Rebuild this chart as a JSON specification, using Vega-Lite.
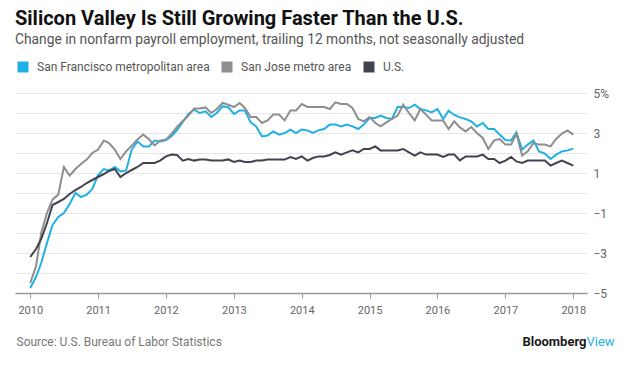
{
  "$schema": "https://vega.github.io/schema/vega-lite/v6.json",
  "autosize": {"type": "none"},
  "width": 572,
  "height": 200,
  "padding": {"left": 15, "top": 93, "right": 39, "bottom": 74},
  "background": "#ffffff",
  "config": {
    "font": "Roboto",
    "view": {"stroke": null}
  },
  "title": {
    "text": "Silicon Valley Is Still Growing Faster Than the U.S.",
    "subtitle": "Change in nonfarm payroll employment, trailing 12 months, not seasonally adjusted",
    "anchor": "start",
    "frame": "group",
    "fontSize": 20,
    "fontWeight": "bold",
    "color": "#111111",
    "subtitleFontSize": 13.8,
    "subtitleColor": "#555555",
    "subtitlePadding": 4,
    "offset": 14
  },
  "data": {
    "values": [
      {"d":"2010-01-01","sf":-4.75,"sj":-4.5,"us":-3.2},
      {"d":"2010-02-01","sf":-4.2,"sj":-3.67,"us":-2.8},
      {"d":"2010-03-01","sf":-3.5,"sj":-2.0,"us":-2.3},
      {"d":"2010-04-01","sf":-2.5,"sj":-1.0,"us":-1.5},
      {"d":"2010-05-01","sf":-1.6,"sj":-0.33,"us":-0.6},
      {"d":"2010-06-01","sf":-1.2,"sj":-0.08,"us":-0.45},
      {"d":"2010-07-01","sf":-1.0,"sj":1.3,"us":-0.3},
      {"d":"2010-08-01","sf":-0.55,"sj":0.87,"us":-0.05},
      {"d":"2010-09-01","sf":0.0,"sj":1.2,"us":0.15},
      {"d":"2010-10-01","sf":-0.2,"sj":1.45,"us":0.3},
      {"d":"2010-11-01","sf":-0.08,"sj":1.67,"us":0.5},
      {"d":"2010-12-01","sf":0.2,"sj":2.0,"us":0.65},
      {"d":"2011-01-01","sf":0.9,"sj":2.17,"us":0.8},
      {"d":"2011-02-01","sf":1.2,"sj":2.62,"us":0.95},
      {"d":"2011-03-01","sf":1.13,"sj":2.5,"us":1.1},
      {"d":"2011-04-01","sf":1.3,"sj":2.17,"us":1.2},
      {"d":"2011-05-01","sf":1.08,"sj":1.7,"us":0.8},
      {"d":"2011-06-01","sf":1.13,"sj":2.08,"us":1.0},
      {"d":"2011-07-01","sf":2.17,"sj":2.37,"us":1.15},
      {"d":"2011-08-01","sf":2.58,"sj":2.67,"us":1.3},
      {"d":"2011-09-01","sf":2.33,"sj":2.92,"us":1.5},
      {"d":"2011-10-01","sf":2.33,"sj":2.7,"us":1.5},
      {"d":"2011-11-01","sf":2.62,"sj":2.38,"us":1.5},
      {"d":"2011-12-01","sf":2.58,"sj":2.62,"us":1.62},
      {"d":"2012-01-01","sf":2.63,"sj":2.67,"us":1.83},
      {"d":"2012-02-01","sf":2.85,"sj":2.97,"us":1.92},
      {"d":"2012-03-01","sf":3.15,"sj":3.3,"us":1.9},
      {"d":"2012-04-01","sf":3.55,"sj":3.6,"us":1.62},
      {"d":"2012-05-01","sf":3.95,"sj":3.87,"us":1.7},
      {"d":"2012-06-01","sf":4.17,"sj":4.22,"us":1.62},
      {"d":"2012-07-01","sf":4.0,"sj":4.22,"us":1.68},
      {"d":"2012-08-01","sf":4.08,"sj":4.28,"us":1.68},
      {"d":"2012-09-01","sf":3.8,"sj":4.0,"us":1.62},
      {"d":"2012-10-01","sf":4.0,"sj":4.2,"us":1.62},
      {"d":"2012-11-01","sf":4.33,"sj":4.5,"us":1.62},
      {"d":"2012-12-01","sf":4.3,"sj":4.42,"us":1.68},
      {"d":"2013-01-01","sf":3.95,"sj":4.3,"us":1.55},
      {"d":"2013-02-01","sf":4.13,"sj":4.5,"us":1.62},
      {"d":"2013-03-01","sf":4.13,"sj":4.25,"us":1.55},
      {"d":"2013-04-01","sf":3.53,"sj":3.8,"us":1.55},
      {"d":"2013-05-01","sf":3.33,"sj":3.8,"us":1.62},
      {"d":"2013-06-01","sf":2.83,"sj":3.5,"us":1.62},
      {"d":"2013-07-01","sf":2.87,"sj":3.63,"us":1.67},
      {"d":"2013-08-01","sf":3.08,"sj":3.92,"us":1.67},
      {"d":"2013-09-01","sf":2.92,"sj":3.92,"us":1.67},
      {"d":"2013-10-01","sf":3.0,"sj":3.63,"us":1.67},
      {"d":"2013-11-01","sf":3.17,"sj":4.12,"us":1.8},
      {"d":"2013-12-01","sf":3.0,"sj":4.13,"us":1.7},
      {"d":"2014-01-01","sf":3.17,"sj":4.45,"us":1.83},
      {"d":"2014-02-01","sf":3.13,"sj":4.3,"us":1.62},
      {"d":"2014-03-01","sf":3.0,"sj":4.3,"us":1.75},
      {"d":"2014-04-01","sf":3.13,"sj":4.3,"us":1.83},
      {"d":"2014-05-01","sf":3.2,"sj":4.3,"us":1.83},
      {"d":"2014-06-01","sf":3.42,"sj":4.2,"us":1.9},
      {"d":"2014-07-01","sf":3.42,"sj":4.53,"us":2.03},
      {"d":"2014-08-01","sf":3.33,"sj":4.45,"us":1.92},
      {"d":"2014-09-01","sf":3.42,"sj":4.45,"us":2.03},
      {"d":"2014-10-01","sf":3.33,"sj":4.25,"us":2.13},
      {"d":"2014-11-01","sf":3.2,"sj":3.7,"us":2.03},
      {"d":"2014-12-01","sf":3.42,"sj":3.58,"us":2.2},
      {"d":"2015-01-01","sf":3.75,"sj":3.8,"us":2.2},
      {"d":"2015-02-01","sf":3.75,"sj":3.5,"us":2.33},
      {"d":"2015-03-01","sf":3.87,"sj":3.33,"us":2.13},
      {"d":"2015-04-01","sf":3.75,"sj":3.53,"us":2.13},
      {"d":"2015-05-01","sf":3.7,"sj":3.7,"us":2.13},
      {"d":"2015-06-01","sf":4.3,"sj":3.87,"us":2.13},
      {"d":"2015-07-01","sf":4.3,"sj":4.42,"us":2.2},
      {"d":"2015-08-01","sf":4.25,"sj":4.0,"us":2.03},
      {"d":"2015-09-01","sf":4.42,"sj":3.63,"us":1.87},
      {"d":"2015-10-01","sf":4.2,"sj":4.2,"us":2.03},
      {"d":"2015-11-01","sf":4.13,"sj":3.92,"us":1.92},
      {"d":"2015-12-01","sf":4.03,"sj":3.63,"us":1.92},
      {"d":"2016-01-01","sf":4.2,"sj":3.63,"us":1.92},
      {"d":"2016-02-01","sf":3.7,"sj":3.63,"us":1.8},
      {"d":"2016-03-01","sf":4.12,"sj":3.2,"us":1.92},
      {"d":"2016-04-01","sf":3.9,"sj":3.58,"us":1.92},
      {"d":"2016-05-01","sf":3.78,"sj":3.28,"us":1.63},
      {"d":"2016-06-01","sf":3.7,"sj":3.08,"us":1.83},
      {"d":"2016-07-01","sf":3.58,"sj":3.3,"us":1.83},
      {"d":"2016-08-01","sf":3.33,"sj":3.0,"us":1.83},
      {"d":"2016-09-01","sf":3.5,"sj":2.75,"us":1.92},
      {"d":"2016-10-01","sf":3.2,"sj":2.2,"us":1.7},
      {"d":"2016-11-01","sf":3.2,"sj":2.63,"us":1.7},
      {"d":"2016-12-01","sf":2.92,"sj":2.7,"us":1.5},
      {"d":"2017-01-01","sf":2.65,"sj":2.42,"us":1.62},
      {"d":"2017-02-01","sf":2.63,"sj":2.42,"us":1.8},
      {"d":"2017-03-01","sf":3.03,"sj":2.97,"us":1.58},
      {"d":"2017-04-01","sf":2.17,"sj":1.87,"us":1.5},
      {"d":"2017-05-01","sf":2.42,"sj":2.08,"us":1.62},
      {"d":"2017-06-01","sf":2.63,"sj":2.5,"us":1.62},
      {"d":"2017-07-01","sf":2.08,"sj":2.42,"us":1.62},
      {"d":"2017-08-01","sf":1.97,"sj":2.42,"us":1.62},
      {"d":"2017-09-01","sf":1.7,"sj":2.33,"us":1.37},
      {"d":"2017-10-01","sf":1.92,"sj":2.7,"us":1.5},
      {"d":"2017-11-01","sf":2.08,"sj":2.97,"us":1.62},
      {"d":"2017-12-01","sf":2.13,"sj":3.13,"us":1.5},
      {"d":"2018-01-01","sf":2.22,"sj":2.92,"us":1.37}
    ]
  },
  "transform": [{"fold": ["sf", "sj", "us"], "as": ["k", "v"]}],
  "encoding": {
    "x": {
      "field": "d",
      "type": "temporal",
      "scale": {"type": "utc", "domain": ["2009-10-11", "2018-03-16"], "nice": false},
      "axis": {
        "values": [
          {"year": 2010, "utc": true}, {"year": 2011, "utc": true}, {"year": 2012, "utc": true},
          {"year": 2013, "utc": true}, {"year": 2014, "utc": true}, {"year": 2015, "utc": true},
          {"year": 2016, "utc": true}, {"year": 2017, "utc": true}, {"year": 2018, "utc": true}
        ],
        "format": "%Y",
        "grid": false,
        "domainColor": "#999999",
        "domainWidth": 1.5,
        "tickColor": "#999999",
        "tickSize": 5,
        "labelColor": "#666666",
        "labelFontSize": 11,
        "labelPadding": 6,
        "title": "Source: U.S. Bureau of Labor Statistics",
        "titleX": 1,
        "titleY": 48,
        "titleAlign": "left",
        "titleAnchor": null,
        "titleBaseline": "middle",
        "titleFontSize": 12,
        "titleFontWeight": "normal",
        "titleColor": "#777777"
      }
    },
    "color": {
      "field": "k",
      "type": "nominal",
      "scale": {"domain": ["sf", "sj", "us"], "range": ["#1fb1e6", "#8e8e8e", "#43434f"]},
      "legend": {
        "orient": "none",
        "direction": "horizontal",
        "legendX": 2,
        "legendY": -32,
        "title": null,
        "padding": 0,
        "symbolType": "square",
        "symbolSize": 121,
        "symbolStrokeWidth": 0,
        "symbolOpacity": 1,
        "labelFontSize": 12,
        "labelLimit": 400,
        "labelColor": "#555555",
        "labelOffset": 8,
        "columnPadding": 11,
        "labelExpr": "{'sf': 'San Francisco metropolitan area', 'sj': 'San Jose metro area', 'us': 'U.S.'}[datum.value]",
        "encode": {
          "symbols": {
            "update": {
              "fill": {"scale": "color", "field": "value"},
              "fillOpacity": {"value": 1}
            }
          }
        }
      }
    }
  },
  "layer": [
    {
      "transform": [{"filter": "datum.k != 'us'"}],
      "mark": {"type": "line", "strokeWidth": 2},
      "encoding": {
        "y": {
          "field": "v",
          "type": "quantitative",
          "scale": {"domain": [-5, 5], "nice": false, "zero": false},
          "axis": {
            "orient": "right",
            "values": [-5, -4, -3, -2, -1, 0, 1, 2, 3, 4, 5],
            "grid": true,
            "gridColor": "#e6e6e6",
            "gridWidth": 1,
            "domain": false,
            "ticks": false,
            "labelAlign": "left",
            "labelPadding": 6,
            "labelColor": "#666666",
            "labelFontSize": 12,
            "labelExpr": "datum.value % 2 == 0 ? '' : (datum.value == 5 ? '5%' : datum.label)",
            "title": "Bloomberg",
            "titleAngle": 0,
            "titleX": -1,
            "titleY": 248,
            "titleAlign": "right",
            "titleBaseline": "middle",
            "titleAnchor": null,
            "titleFontSize": 13,
            "titleFontWeight": "bold",
            "titleColor": "#1a1a1a"
          }
        }
      }
    },
    {
      "transform": [{"filter": "datum.k == 'us'"}],
      "mark": {"type": "line", "strokeWidth": 2},
      "encoding": {
        "y": {
          "field": "v",
          "type": "quantitative",
          "axis": {
            "orient": "left",
            "grid": false,
            "domain": false,
            "ticks": false,
            "labels": false,
            "title": "View",
            "titleAngle": 0,
            "titleX": 571,
            "titleY": 248,
            "titleAlign": "left",
            "titleBaseline": "middle",
            "titleAnchor": null,
            "titleFontSize": 13,
            "titleFontWeight": "normal",
            "titleColor": "#1fb1e6"
          }
        }
      }
    }
  ],
  "resolve": {"axis": {"y": "independent"}}
}
